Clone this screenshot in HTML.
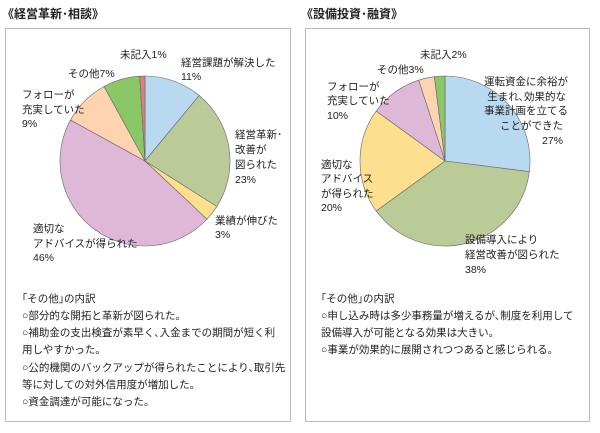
<!DOCTYPE html>
<html><head><meta charset="utf-8"><style>
body{margin:0;width:600px;height:428px;background:#fff;overflow:hidden;font-family:"Liberation Sans","Noto Sans CJK JP",sans-serif;}
svg text{font-family:"Liberation Sans","Noto Sans CJK JP",sans-serif;font-size:10.5px;fill:#222;}
</style></head><body>
<svg width="600" height="428">
<text x="2" y="18" style="font-size:12px;font-weight:bold">《経営革新･相談》</text>
<text x="301" y="18" style="font-size:12px;font-weight:bold">《設備投資･融資》</text>
<rect x="5.5" y="28.5" width="285" height="393" fill="none" stroke="#bbb"/>
<rect x="305.5" y="28.5" width="284" height="393" fill="none" stroke="#bbb"/>
<g id="leftPie"></g>
<g id="rightPie"></g>
<g>
<text x="120" y="58">未記入1%</text>
<text x="181" y="66">経営課題が解決した</text><text x="181" y="80">11%</text>
<text x="235" y="138">経営革新･</text><text x="235" y="153">改善が</text><text x="235" y="168">図られた</text><text x="235" y="183">23%</text>
<text x="215" y="224">業績が伸びた</text><text x="215" y="238">3%</text>
<text x="33" y="232">適切な</text><text x="33" y="247">アドバイスが得られた</text><text x="33" y="261">46%</text>
<text x="22" y="98">フォローが</text><text x="22" y="113">充実していた</text><text x="22" y="127">9%</text>
<text x="68" y="77">その他7%</text>
</g>
<g>
<text x="420" y="58">未記入2%</text>
<text x="377" y="73">その他3%</text>
<text x="327" y="90">フォローが</text><text x="327" y="104">充実していた</text><text x="327" y="119">10%</text>
<g text-anchor="end"><text x="568" y="85">運転資金に余裕が</text><text x="566" y="100">生まれ､効果的な</text><text x="568" y="114">事業計画を立てる</text><text x="563" y="129">ことができた</text><text x="563" y="144">27%</text></g>
<text x="321" y="168">適切な</text><text x="321" y="182">アドバイス</text><text x="321" y="197">が得られた</text><text x="321" y="211">20%</text>
<text x="465" y="243">設備導入により</text><text x="465" y="258">経営改善が図られた</text><text x="465" y="273">38%</text>
</g>
<g>
<text x="22" y="302">｢その他｣の内訳</text>
<text x="22" y="319">○部分的な開拓と革新が図られた。</text>
<text x="22" y="336">○補助金の支出検査が素早く､入金までの期間が短く利</text>
<text x="22" y="353">用しやすかった。</text>
<text x="22" y="371">○公的機関のバックアップが得られたことにより､取引先</text>
<text x="22" y="388">等に対しての対外信用度が増加した。</text>
<text x="22" y="405">○資金調達が可能になった。</text>
</g>
<g>
<text x="321" y="302">｢その他｣の内訳</text>
<text x="321" y="319">○申し込み時は多少事務量が増えるが､制度を利用して</text>
<text x="321" y="336">設備導入が可能となる効果は大きい。</text>
<text x="321" y="353">○事業が効果的に展開されつつあると感じられる。</text>
</g>
</svg>
<script>
const leftCategories=["経営課題が解決した","経営革新・改善が図られた","業績が伸びた","適切なアドバイスが得られた","フォローが充実していた","その他","未記入"];
const leftValues=[11,23,3,46,9,7,1];
const leftColors=["#b9d9f1","#bbcb98","#fde08f","#dfb8d8","#fdd3b0","#8ac767","#d98080"];
const rightCategories=["運転資金に余裕が生まれ、効果的な事業計画を立てることができた","設備導入により経営改善が図られた","適切なアドバイスが得られた","フォローが充実していた","その他","未記入"];
const rightValues=[27,38,20,10,3,2];
const rightColors=["#b9d9f1","#bbcb98","#fde08f","#dfb8d8","#fdd3b0","#8ac767"];
function drawPie(g,vals,cols,cx,cy,r,prefix){
  const total=vals.reduce((a,b)=>a+b,0);let a0=-Math.PI/2;
  vals.forEach((v,i)=>{
    const a1=a0+v/total*2*Math.PI;
    const x0=cx+r*Math.cos(a0),y0=cy+r*Math.sin(a0),x1=cx+r*Math.cos(a1),y1=cy+r*Math.sin(a1);
    const p=document.createElementNS("http://www.w3.org/2000/svg","path");
    p.setAttribute("d",`M${cx},${cy}L${x0},${y0}A${r},${r} 0 ${a1-a0>Math.PI?1:0} 1 ${x1},${y1}Z`);
    p.setAttribute("fill",cols[i]);p.setAttribute("stroke","#666");p.setAttribute("stroke-width","0.6");
    
    
    g.appendChild(p);a0=a1;
  });
}
drawPie(document.getElementById("leftPie"),leftValues,leftColors,145,161,85,"left");
drawPie(document.getElementById("rightPie"),rightValues,rightColors,445,161,85,"right");
</script>
</body></html>
